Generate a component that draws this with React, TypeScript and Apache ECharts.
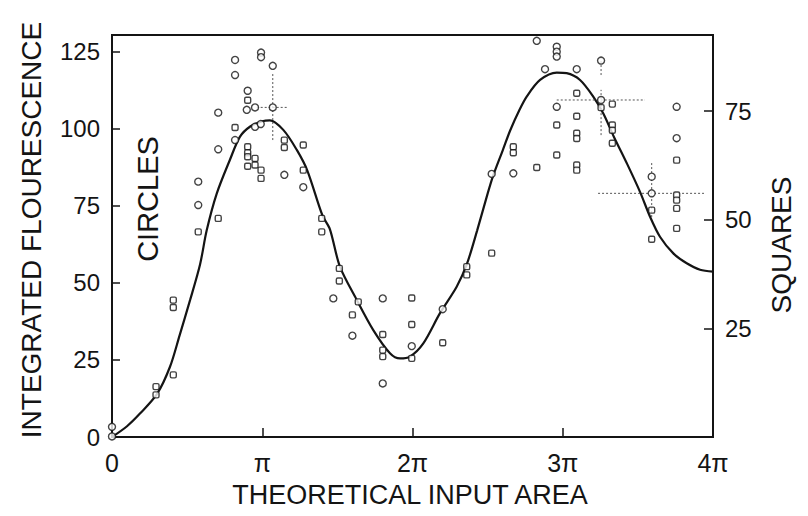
import React, { useEffect, useRef } from "react";
import * as echarts from "echarts";

// x values are in units of pi (0..4 => 0..4π)
const xTickLabels = ["0", "π", "2π", "3π", "4π"];
const leftTicks = [0, 25, 50, 75, 100, 125];
const rightTicks = [25, 50, 75];

// fitted curve (left axis units)
const curveX = [0, 0.1, 0.186, 0.3, 0.386, 0.45, 0.52, 0.586, 0.63, 0.697, 0.785, 0.852, 0.92, 1.0, 1.05, 1.14, 1.23, 1.3, 1.4, 1.45, 1.517, 1.629, 1.739, 1.85, 1.917, 1.983, 2.072, 2.183, 2.294, 2.361, 2.43, 2.5, 2.538, 2.6, 2.65, 2.71, 2.76, 2.849, 2.96, 3.026, 3.115, 3.203, 3.27, 3.34, 3.43, 3.515, 3.581, 3.647, 3.736, 3.825, 3.914, 4.0];
const curveY = [0, 3.5, 7.6, 14, 22.8, 33, 44.5, 56, 67, 79, 90, 97.5, 100.8, 102.5, 102.8, 99.7, 93.2, 86.5, 72, 67.5, 55.3, 44.5, 34.7, 27.2, 25.5, 26.1, 30.4, 40.2, 48.8, 56, 67, 79, 85, 93, 99.5, 106, 110.5, 115.9, 118.3, 118.1, 115.9, 110.5, 105, 97.5, 88.5, 79.5, 71.5, 65, 59.6, 56.4, 54.3, 53.7];

// circles (left axis)
const circleX = [0, 0, 0.819, 0.819, 0.992, 0.992, 1.07, 1.07, 0.903, 0.897, 0.952, 0.707, 0.819, 0.952, 0.99, 0.707, 1.147, 1.273, 0.574, 0.574, 1.473, 1.6, 1.802, 1.802, 1.995, 2.201, 2.527, 2.671, 2.827, 2.96, 2.96, 2.96, 2.882, 3.093, 3.255, 2.96, 3.255, 3.758, 3.758, 3.592, 3.592];
const circleY = [3.3, 0.2, 122.4, 117.5, 124.8, 123.3, 120.5, 107, 112.4, 106.2, 107, 105.3, 96.4, 100.7, 101.6, 93.4, 85.1, 81.1, 82.9, 75.3, 45, 32.9, 45, 17.4, 29.5, 41.5, 85.4, 85.6, 128.6, 126.7, 125.1, 123.5, 119.4, 119.4, 122.2, 107.2, 109.4, 107.2, 97, 84.5, 79.1];

// squares (right axis)
const squareX = [0.819, 0.903, 0.903, 0.903, 0.903, 0.952, 0.952, 0.903, 0.992, 0.992, 1.147, 1.147, 1.273, 1.273, 0.574, 0.707, 0.293, 0.293, 0.408, 0.408, 0.408, 1.396, 1.396, 1.513, 1.513, 1.639, 1.6, 1.802, 1.802, 1.802, 1.995, 1.995, 1.995, 2.201, 2.361, 2.361, 2.527, 2.671, 2.671, 2.827, 3.093, 3.255, 3.33, 3.093, 2.96, 3.093, 3.093, 3.33, 3.33, 3.33, 2.96, 3.093, 3.093, 3.758, 3.758, 3.758, 3.758, 3.758, 3.592, 3.592];
const squareY = [71.2, 77.5, 66.8, 65.4, 64.5, 64.1, 62.6, 62.3, 61.4, 59.5, 68.3, 66.6, 67.2, 61.4, 47.2, 50.3, 11.6, 9.7, 31.5, 29.8, 14.3, 50.3, 47.2, 38.8, 35.9, 31.1, 28.1, 23.6, 20, 18.5, 32, 25.9, 18.1, 21.7, 39.2, 37.3, 42.3, 66.8, 65.4, 62, 79.1, 75.8, 76.6, 73.8, 71.8, 69.9, 68.7, 71.8, 70.6, 67.6, 64.9, 62.6, 61.4, 63.7, 55.7, 54.5, 52.6, 48.0, 52.2, 45.5];

// error bars: centre x, centre y, x low, x high, y low, y high (left axis units)
const errX = [1.07, 3.255, 3.255, 3.592];
const errY = [107, 109.4, 122.2, 79.1];
const errXLo = [0.963, 2.96, 3.255, 3.235];
const errXHi = [1.173, 3.547, 3.255, 3.94];
const errYLo = [96.4, 98, 117.5, 71.4];
const errYHi = [118.2, 112.7, 123.5, 89.4];

const INK = "#141414";
const FONT = "'Liberation Sans', Arial, sans-serif";

export default function App() {
  const ref = useRef<HTMLDivElement>(null);
  useEffect(() => {
    if (!ref.current) return;
    const chart = echarts.init(ref.current, undefined, { renderer: "svg" });
    const curve = curveX.map((x, i) => [x, curveY[i]]);
    const circles = circleX.map((x, i) => [x, circleY[i]]);
    const squares = squareX.map((x, i) => [x, squareY[i]]);
    const errs = errX.map((x, i) => [x, errY[i], errXLo[i], errXHi[i], errYLo[i], errYHi[i]]);

    chart.setOption({
      animation: false,
      backgroundColor: "#ffffff",
      grid: {
        left: 112,
        right: 95,
        top: 35,
        bottom: 79,
        show: true,
        borderColor: INK,
        borderWidth: 2,
        backgroundColor: "transparent",
      },
      xAxis: {
        type: "value",
        min: 0,
        max: 4,
        interval: 1,
        axisLine: { show: true, lineStyle: { color: INK, width: 2 } },
        axisTick: { show: true, inside: true, length: 9, lineStyle: { color: INK, width: 1.5 } },
        splitLine: { show: false },
        axisLabel: {
          margin: 13,
          color: INK,
          fontSize: 25,
          fontFamily: FONT,
          formatter: (v: number) => (Number.isInteger(v) ? xTickLabels[v] : ""),
        },
      },
      yAxis: [
        {
          type: "value",
          min: 0,
          max: 130.5,
          interval: 25,
          position: "left",
          axisLine: { show: true, lineStyle: { color: INK, width: 2 } },
          axisTick: { show: true, inside: true, length: 8, lineStyle: { color: INK, width: 1.5 } },
          splitLine: { show: false },
          axisLabel: {
            margin: 12,
            color: INK,
            fontSize: 24,
            fontFamily: FONT,
            formatter: (v: number) => (leftTicks.includes(v) ? String(v) : ""),
          },
        },
        {
          type: "value",
          min: 0,
          max: 92.5,
          interval: 25,
          position: "right",
          axisLine: { show: true, lineStyle: { color: INK, width: 2 } },
          axisTick: { show: true, inside: true, length: 9, lineStyle: { color: INK, width: 1.5 } },
          splitLine: { show: false },
          axisLabel: {
            margin: 12,
            color: INK,
            fontSize: 24,
            fontFamily: FONT,
            formatter: (v: number) => (rightTicks.includes(v) ? String(v) : ""),
          },
        },
      ],
      graphic: [
        {
          type: "text",
          x: 31,
          y: 230,
          rotation: Math.PI / 2,
          style: {
            text: "INTEGRATED FLOURESCENCE",
            align: "center",
            verticalAlign: "middle",
            fill: INK,
            font: `28px ${FONT}`,
          },
        },
        {
          type: "text",
          x: 148,
          y: 199,
          rotation: Math.PI / 2,
          style: {
            text: "CIRCLES",
            align: "center",
            verticalAlign: "middle",
            fill: INK,
            font: `29px ${FONT}`,
          },
        },
        {
          type: "text",
          x: 781,
          y: 245,
          rotation: Math.PI / 2,
          style: {
            text: "SQUARES",
            align: "center",
            verticalAlign: "middle",
            fill: INK,
            font: `28px ${FONT}`,
          },
        },
        {
          type: "text",
          x: 410,
          y: 495,
          style: {
            text: "THEORETICAL INPUT AREA",
            align: "center",
            verticalAlign: "middle",
            fill: INK,
            font: `27px ${FONT}`,
          },
        },
      ],
      series: [
        {
          type: "line",
          data: curve,
          smooth: 0.3,
          showSymbol: false,
          yAxisIndex: 0,
          lineStyle: { color: INK, width: 2.2 },
          z: 2,
        },
        {
          type: "custom",
          yAxisIndex: 0,
          data: errs,
          z: 3,
          renderItem: (_params: any, api: any) => {
            const c = api.coord([api.value(0), api.value(1)]);
            const l = api.coord([api.value(2), api.value(1)]);
            const r = api.coord([api.value(3), api.value(1)]);
            const lo = api.coord([api.value(0), api.value(4)]);
            const hi = api.coord([api.value(0), api.value(5)]);
            const style = { stroke: "#555", lineWidth: 1, lineDash: [2, 2] };
            return {
              type: "group",
              children: [
                { type: "line", shape: { x1: l[0], y1: c[1], x2: r[0], y2: c[1] }, style },
                { type: "line", shape: { x1: c[0], y1: lo[1], x2: c[0], y2: hi[1] }, style },
              ],
            };
          },
        },
        {
          type: "scatter",
          data: circles,
          yAxisIndex: 0,
          symbol: "circle",
          symbolSize: 7,
          itemStyle: { color: "#ffffff", borderColor: INK, borderWidth: 1.4 },
          z: 4,
        },
        {
          type: "scatter",
          data: squares,
          yAxisIndex: 1,
          symbol: "roundRect",
          symbolSize: 6,
          itemStyle: { color: "#ffffff", borderColor: INK, borderWidth: 1.4 },
          z: 4,
        },
      ],
    });
    return () => chart.dispose();
  }, []);

  return (
    <div
      ref={ref}
      style={{ position: "fixed", left: 0, top: 0, width: 808, height: 516, background: "#fff" }}
    />
  );
}
